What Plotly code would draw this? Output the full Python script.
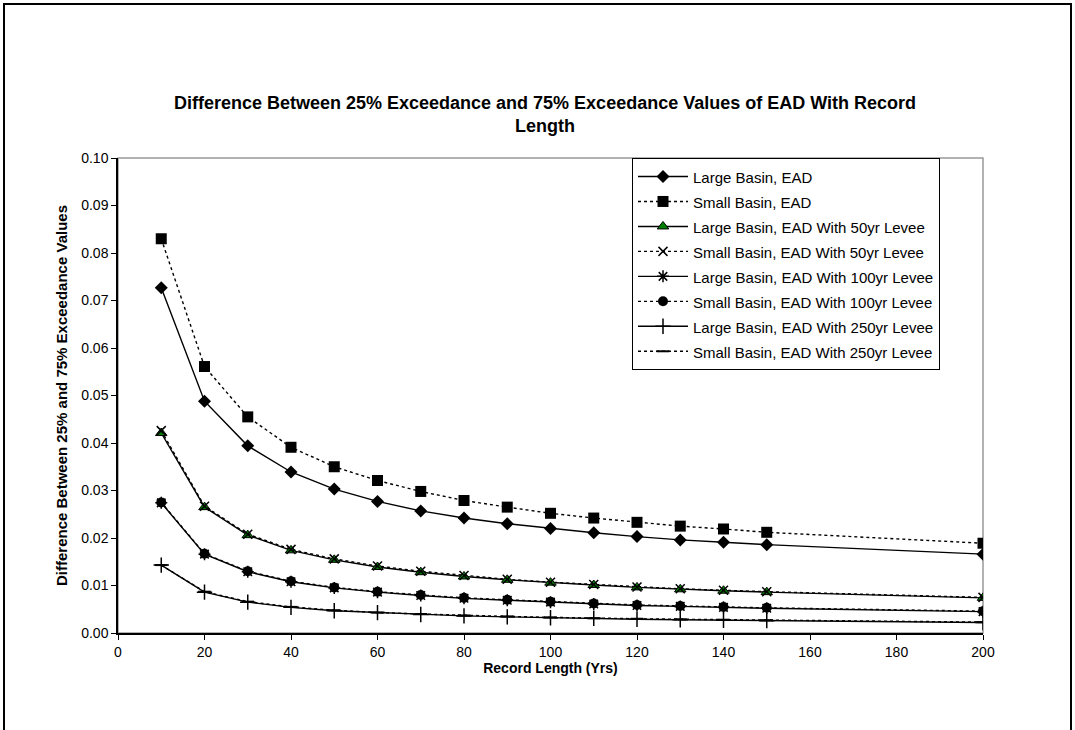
import plotly.graph_objects as go

record_length = [10, 20, 30, 40, 50, 60, 70, 80, 90, 100, 110, 120, 130, 140, 150, 200]

large_ead = [0.0727, 0.0488, 0.0394, 0.0339, 0.0303, 0.0277, 0.0257, 0.0242, 0.0230, 0.0220,
             0.0211, 0.0203, 0.0196, 0.0191, 0.0186, 0.0166]
small_ead = [0.0830, 0.0561, 0.0455, 0.0391, 0.0350, 0.0321, 0.0298, 0.0279, 0.0265, 0.0252,
             0.0242, 0.0233, 0.0225, 0.0219, 0.0212, 0.0189]
large_50 = [0.0421, 0.0265, 0.0206, 0.0174, 0.0154, 0.0139, 0.0128, 0.0119, 0.0112, 0.0106,
            0.0101, 0.0096, 0.0092, 0.0089, 0.0086, 0.0074]
small_50 = [0.0426, 0.0267, 0.0208, 0.0176, 0.0156, 0.0141, 0.0130, 0.0121, 0.0113, 0.0107,
            0.0102, 0.0097, 0.0093, 0.0090, 0.0087, 0.0075]
large_100 = [0.0274, 0.0166, 0.0129, 0.0108, 0.0095, 0.0086, 0.0079, 0.0073, 0.0069, 0.0065,
             0.0061, 0.0058, 0.0056, 0.0054, 0.0052, 0.0045]
small_100 = [0.0275, 0.0167, 0.0130, 0.0109, 0.0096, 0.0087, 0.0080, 0.0074, 0.0070, 0.0066,
             0.0062, 0.0059, 0.0057, 0.0055, 0.0053, 0.0046]
large_250 = [0.0143, 0.0086, 0.0065, 0.0054, 0.0047, 0.0043, 0.0039, 0.0036, 0.0034, 0.0032,
             0.0031, 0.0029, 0.0028, 0.0027, 0.0026, 0.0022]
small_250 = [0.0143, 0.0087, 0.0066, 0.0055, 0.0048, 0.0043, 0.0040, 0.0037, 0.0035, 0.0033,
             0.0031, 0.0030, 0.0029, 0.0028, 0.0027, 0.0023]

series = [
    ("Large Basin, EAD", large_ead, "solid", dict(symbol="diamond", size=10, color="black")),
    ("Small Basin, EAD", small_ead, "dot", dict(symbol="square", size=11, color="black")),
    ("Large Basin, EAD With 50yr Levee", large_50, "solid",
     dict(symbol="triangle-up", size=10, color="#008000", line=dict(color="black", width=1))),
    ("Small Basin, EAD With 50yr Levee", small_50, "dot",
     dict(symbol="x-thin", size=9, color="black", line=dict(color="black", width=1.5))),
    ("Large Basin, EAD With 100yr Levee", large_100, "solid",
     dict(symbol="asterisk", size=10, color="black", line=dict(color="black", width=1.5))),
    ("Small Basin, EAD With 100yr Levee", small_100, "dot", dict(symbol="circle", size=10, color="black")),
    ("Large Basin, EAD With 250yr Levee", large_250, "solid",
     dict(symbol="cross-thin", size=11, color="black", line=dict(color="black", width=1.5))),
    ("Small Basin, EAD With 250yr Levee", small_250, "dot",
     dict(symbol="line-ew", size=9, color="black", line=dict(color="black", width=2))),
]

fig = go.Figure()
for name, vals, dash, marker in series:
    fig.add_trace(go.Scatter(
        x=record_length, y=vals, name='<span style="font-size:15px">' + name + '</span>',
        mode="lines+markers",
        line=dict(color="black", width=1.4, dash=dash),
        marker=marker,
    ))

font_family = "Liberation Sans, Arial, sans-serif"
W, H = 1075, 730
L, R, T, B = 118, 92, 158, 97

fig.update_layout(
    width=W, height=H,
    margin=dict(l=L, r=R, t=T, b=B),
    paper_bgcolor="white", plot_bgcolor="white",
    font=dict(family=font_family, size=14, color="black"),
    title=dict(
        text="<b>Difference Between 25% Exceedance and 75% Exceedance Values of EAD With Record<br>Length</b>",
        x=545 / W, xanchor="center", xref="container", y=1 - 109 / H, yanchor="middle", yref="container",
        font=dict(size=18, family=font_family, color="black"),
    ),
    xaxis=dict(
        range=[0, 200], tickvals=list(range(0, 201, 20)), showgrid=False, zeroline=False,
        showline=True, linecolor="black", linewidth=1.5, ticks="outside", ticklen=5,
        tickcolor="black", tickfont=dict(size=14),
        title=dict(text="<b>Record Length (Yrs)</b>", font=dict(size=14), standoff=0),
    ),
    yaxis=dict(
        range=[0, 0.10], dtick=0.01, tickformat=".2f", showgrid=False, zeroline=False,
        showline=True, linecolor="black", linewidth=1.5, ticks="outside", ticklen=5,
        tickcolor="black", tickfont=dict(size=14),
        title=dict(text="<b>Difference Between 25% and 75% Exceedance Values</b>", font=dict(size=15), standoff=10),
    ),
    legend=dict(
        x=(632 - L) / (W - L - R), y=1.0, xanchor="left", yanchor="top", xref="paper", yref="paper",
        bordercolor="black", borderwidth=1, bgcolor="white", itemwidth=50,
        font=dict(size=16.9, family=font_family), tracegroupgap=0,
    ),
    showlegend=True,
)

pw, ph = W - L - R, H - T - B
# plot-area frame (gray)
fig.add_shape(type="rect", xref="paper", yref="paper", x0=0, y0=0, x1=1, y1=1,
              line=dict(color="#999999", width=1.5), layer="below")
# outer chart frame (bottom edge lies beyond the visible page)
fig.add_shape(type="rect", xref="paper", yref="paper",
              x0=(4 - L) / pw, x1=(1071 - L) / pw, y0=-(740 - (H - B)) / ph, y1=((H - B) - 4) / ph,
              line=dict(color="black", width=2))

fig.write_html("out.html", config={"displayModeBar": False},
               post_script="document.body.style.margin='0';document.body.style.overflow='hidden';")
